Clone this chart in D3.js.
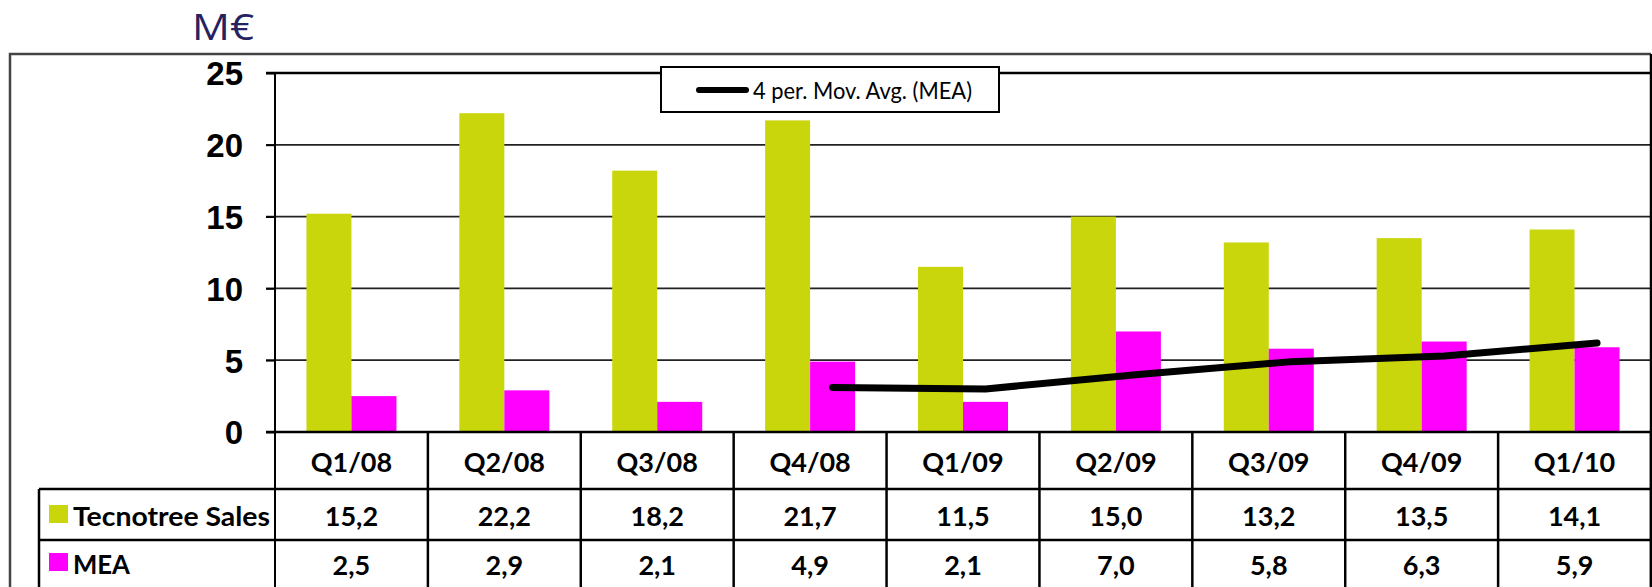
<!DOCTYPE html>
<html>
<head>
<meta charset="utf-8">
<script src="https://cdn.jsdelivr.net/npm/d3@7"></script>
<style>
  html, body { margin: 0; padding: 0; background: #fff; }
  svg { display: block; }
</style>
</head>
<body>
<svg id="chart" width="1652" height="587"></svg>
<script>
const categories = ["Q1/08","Q2/08","Q3/08","Q4/08","Q1/09","Q2/09","Q3/09","Q4/09","Q1/10"];
const seriesNames = ["Tecnotree Sales","MEA"];
const salesValues = [15.2, 22.2, 18.2, 21.7, 11.5, 15.0, 13.2, 13.5, 14.1];
const meaValues = [2.5, 2.9, 2.1, 4.9, 2.1, 7.0, 5.8, 6.3, 5.9];
const movAvgCategories = ["Q4/08","Q1/09","Q2/09","Q3/09","Q4/09","Q1/10"];
const movAvgValues = [3.1, 3.0, 4.0, 4.9, 5.3, 6.2];
const yTicks = [0, 5, 10, 15, 20, 25];
const valueLabels = ["15,2","22,2","18,2","21,7","11,5","15,0","13,2","13,5","14,1"];
const meaLabels = ["2,5","2,9","2,1","4,9","2,1","7,0","5,8","6,3","5,9"];
const colors = ["#C9D60C", "#FF00FF"];
const legendLabel = "4 per. Mov. Avg. (MEA)";
const unitLabel = "M€";

const svg = d3.select("#chart");
const plotLeft = 275, plotRight = 1651, plotTop = 73, plotBottom = 432;
const tableLeft = 39, row1 = 489, row2 = 540, outerLeft = 10, outerTop = 54, H = 587;

const x0 = d3.scaleBand().domain(categories).range([plotLeft, plotRight]).padding(0);
const bw = x0.bandwidth();
const x1 = d3.scaleBand().domain(seriesNames).range([bw / 2 - 45, bw / 2 + 45]).padding(0);
const y = d3.scaleLinear().domain([0, 25]).range([plotBottom, plotTop]);

// outer frame
svg.append("path")
  .attr("d", `M${outerLeft},${H} V${outerTop} H${plotRight}`)
  .attr("fill", "none").attr("stroke", "#444").attr("stroke-width", 2.5);

// unit label
svg.append("text").attr("x", 192).attr("y", 40)
  .attr("font-family", "Open Sans, sans-serif").attr("font-size", 36)
  .attr("fill", "#262260")
  .attr("textLength", 62).attr("lengthAdjust", "spacingAndGlyphs")
  .text(unitLabel);

// gridlines
svg.append("g").selectAll("line").data(yTicks.filter(d => d > 0)).join("line")
  .attr("x1", plotLeft - 9).attr("x2", plotRight)
  .attr("y1", d => y(d)).attr("y2", d => y(d))
  .attr("stroke", d => d === 25 ? "#000" : "#222")
  .attr("stroke-width", d => d === 25 ? 2.5 : 1.8);

// y axis via d3
const yAxis = d3.axisLeft(y).tickValues(yTicks).tickSize(9).tickPadding(23).tickFormat(d3.format("d"));
const gy = svg.append("g").attr("transform", `translate(${plotLeft},0)`).call(yAxis);
gy.select(".domain").remove();
gy.selectAll(".tick line").attr("stroke", "#000").attr("stroke-width", 1.8);
gy.selectAll(".tick text")
  .attr("font-family", "Liberation Sans, Arial, sans-serif")
  .attr("font-weight", "bold").attr("font-size", 33).attr("fill", "#000")
  .attr("dy", "0.36em");

// bars
const data = categories.map((c, i) => ({ cat: c, vals: [salesValues[i], meaValues[i]] }));
const groups = svg.append("g").selectAll("g").data(data).join("g")
  .attr("transform", d => `translate(${x0(d.cat)},0)`);
groups.selectAll("rect").data(d => d.vals.map((v, j) => ({ name: seriesNames[j], v, j }))).join("rect")
  .attr("x", d => x1(d.name)).attr("width", x1.bandwidth())
  .attr("y", d => y(d.v)).attr("height", d => y(0) - y(d.v))
  .attr("fill", d => colors[d.j]);

// moving average line
const line = d3.line()
  .x((d, i) => x0(movAvgCategories[i]) + x1("MEA") + x1.bandwidth() / 2)
  .y(d => y(d));
svg.append("path").datum(movAvgValues).attr("d", line)
  .attr("fill", "none").attr("stroke", "#000").attr("stroke-width", 7)
  .attr("stroke-linecap", "round").attr("stroke-linejoin", "round");

// table lines
const tl = svg.append("g").attr("stroke", "#000");
tl.append("line").attr("x1", plotLeft - 9).attr("x2", plotRight).attr("y1", plotBottom).attr("y2", plotBottom).attr("stroke-width", 2.5);
[row1, row2].forEach(r => tl.append("line").attr("x1", tableLeft).attr("x2", plotRight).attr("y1", r).attr("y2", r).attr("stroke-width", 2.5));
tl.append("line").attr("x1", tableLeft).attr("x2", tableLeft).attr("y1", row1).attr("y2", H).attr("stroke-width", 2.5);
tl.append("line").attr("x1", plotLeft).attr("x2", plotLeft).attr("y1", plotTop).attr("y2", H).attr("stroke-width", 2);
categories.forEach(c => {
  const xr = x0(c) + bw;
  tl.append("line").attr("x1", xr).attr("x2", xr).attr("y1", plotBottom).attr("y2", H).attr("stroke-width", 2.5);
});
tl.append("line").attr("x1", plotRight).attr("x2", plotRight).attr("y1", outerTop).attr("y2", H).attr("stroke-width", 2.5);

const tfont = "Lato, Open Sans, sans-serif";
const tsize = 27;
// category labels
svg.append("g").selectAll("text").data(categories).join("text")
  .attr("x", d => x0(d) + bw / 2).attr("y", 472)
  .attr("text-anchor", "middle").attr("font-family", tfont).attr("font-weight", "bold")
  .attr("font-size", tsize).attr("fill", "#000").text(d => d);
svg.append("g").selectAll("text").data(valueLabels).join("text")
  .attr("x", (d, i) => x0(categories[i]) + bw / 2).attr("y", 526)
  .attr("text-anchor", "middle").attr("font-family", tfont).attr("font-weight", "bold")
  .attr("font-size", tsize).attr("fill", "#000").text(d => d);
svg.append("g").selectAll("text").data(meaLabels).join("text")
  .attr("x", (d, i) => x0(categories[i]) + bw / 2).attr("y", 575)
  .attr("text-anchor", "middle").attr("font-family", tfont).attr("font-weight", "bold")
  .attr("font-size", tsize).attr("fill", "#000").text(d => d);

// row legend keys
[[526, 0, 197], [574, 1, 57]].forEach(([by, j, len]) => {
  svg.append("rect").attr("x", 49).attr("y", by - 21).attr("width", 19).attr("height", 18).attr("fill", colors[j]);
  svg.append("text").attr("x", 73).attr("y", by)
    .attr("font-family", tfont).attr("font-weight", "bold").attr("font-size", tsize)
    .attr("textLength", len).attr("lengthAdjust", "spacingAndGlyphs")
    .attr("fill", "#000").text(seriesNames[j]);
});

// legend box
const lg = svg.append("g");
lg.append("rect").attr("x", 661).attr("y", 67).attr("width", 338).attr("height", 45)
  .attr("fill", "#fff").attr("stroke", "#000").attr("stroke-width", 2);
lg.append("line").attr("x1", 699).attr("x2", 746).attr("y1", 90).attr("y2", 90)
  .attr("stroke", "#000").attr("stroke-width", 6).attr("stroke-linecap", "round");
lg.append("text").attr("x", 753).attr("y", 99)
  .attr("font-family", tfont).attr("font-size", 24).attr("fill", "#000")
  .attr("textLength", 219).attr("lengthAdjust", "spacingAndGlyphs")
  .text(legendLabel);
</script>
</body>
</html>
